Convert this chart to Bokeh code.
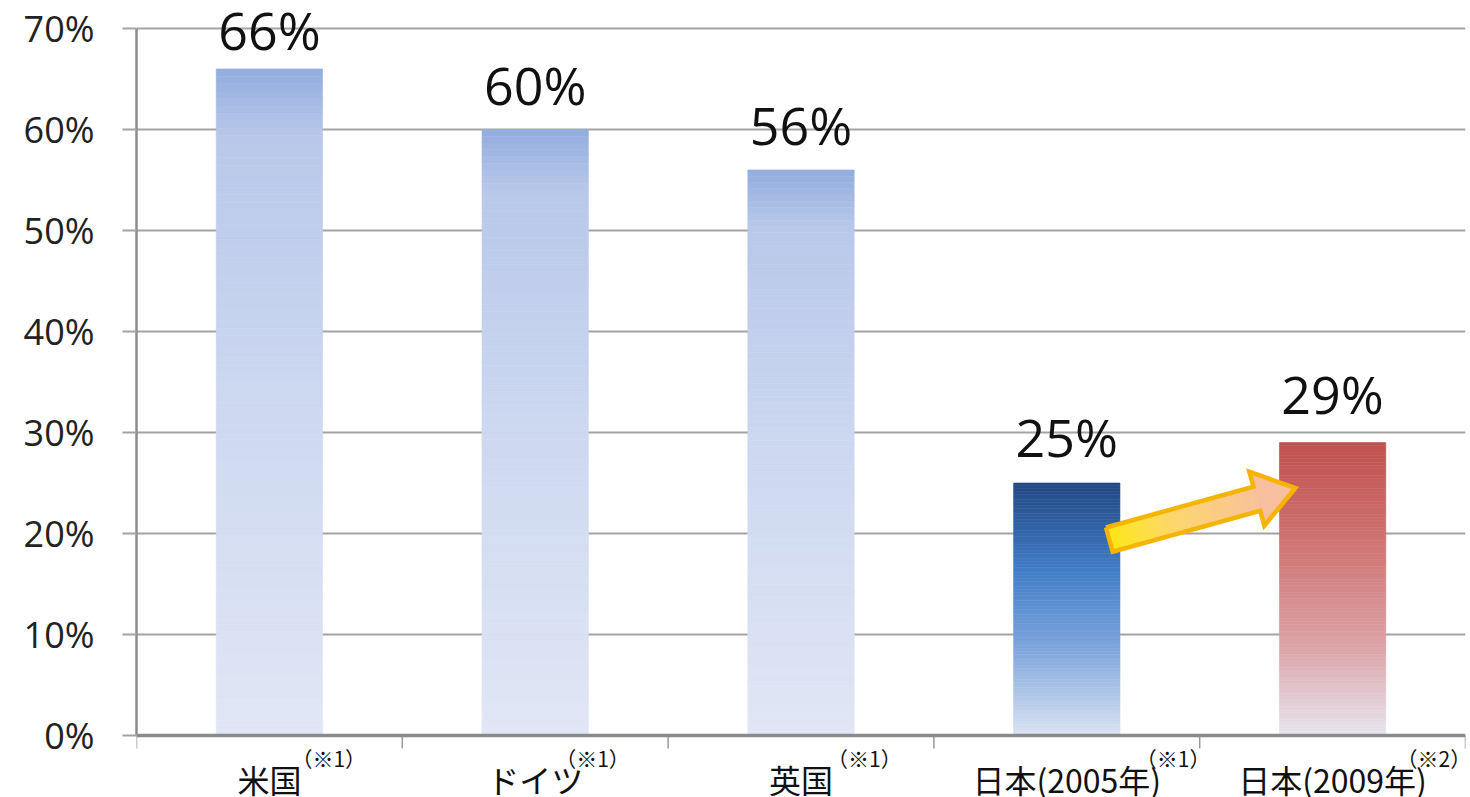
import numpy as np
from bokeh.plotting import figure
from bokeh.models import Label, Range1d, FixedTicker, CustomJSTickFormatter
from bokeh.embed import file_html
from bokeh.resources import INLINE

# ---- data -------------------------------------------------------------
categories = ["米国", "ドイツ", "英国", "日本(2005年)", "日本(2009年)"]
notes = ["（※1）", "（※1）", "（※1）", "（※1）", "（※2）"]
values = [66, 60, 56, 25, 29]
value_labels = ["66%", "60%", "56%", "25%", "29%"]
y_ticks = [0, 10, 20, 30, 40, 50, 60, 70]

# ---- layout / style -----------------------------------------------------
W, H = 1470, 797
BORDER_L, BORDER_R = 136, 5
AXIS_TOP_PX, AXIS_ZERO_PX = 28, 735      # screen rows of 70% and 0%
N_CAT = len(categories)
Y_MAX = 70
FRAME_W = W - BORDER_L - BORDER_R
PX_X = FRAME_W / N_CAT                    # pixels per category unit
PX_Y = (AXIS_ZERO_PX - AXIS_TOP_PX) / Y_MAX   # pixels per percent
Y_START = -(H - AXIS_ZERO_PX) / PX_Y
Y_END = Y_MAX + AXIS_TOP_PX / PX_Y
BAR_W = 0.40

# vertical gradient stops (position from top, rgb)
light_blue = [(0.0, (146, 172, 222)), (0.10, (184, 200, 234)),
              (0.5, (205, 216, 240)), (1.0, (224, 230, 245))]
navy_blue = [(0.0, (34, 72, 132)), (0.35, (66, 126, 200)),
             (0.65, (125, 165, 220)), (1.0, (218, 227, 243))]
brick_red = [(0.0, (192, 80, 77)), (0.40, (210, 122, 122)),
             (0.72, (220, 168, 172)), (1.0, (232, 230, 240))]
bar_gradients = [light_blue, light_blue, light_blue, navy_blue, brick_red]
note_offsets = [22, 20, 26, 69, 64]
label_lift = [39, 45, 45, 47, 49]

FONT_NUM = "Open Sans"
FONT_JP = "Noto Sans CJK JP"


def interp_color(stops, t):
    for (t0, c0), (t1, c1) in zip(stops[:-1], stops[1:]):
        if t0 <= t <= t1:
            f = (t - t0) / (t1 - t0) if t1 > t0 else 0
            r, g, b = (int(round(a + (bb - a) * f)) for a, bb in zip(c0, c1))
            return "#%02x%02x%02x" % (r, g, b)
    r, g, b = stops[-1][1]
    return "#%02x%02x%02x" % (r, g, b)


p = figure(width=W, height=H, output_backend="svg", toolbar_location=None,
           x_range=Range1d(0, N_CAT), y_range=Range1d(Y_START, Y_END),
           min_border_left=BORDER_L, min_border_right=BORDER_R,
           min_border_top=0, min_border_bottom=0)
p.outline_line_color = None
p.background_fill_color = "white"
p.border_fill_color = "white"

# ---- y axis & grid ------------------------------------------------------
p.xgrid.visible = False
p.xaxis.visible = False
p.ygrid.ticker = FixedTicker(ticks=y_ticks)
p.ygrid.grid_line_color = "#a3a3a3"
p.ygrid.grid_line_width = 2

p.yaxis.ticker = FixedTicker(ticks=y_ticks)
p.yaxis.bounds = (0, Y_MAX)
p.yaxis.formatter = CustomJSTickFormatter(code="return tick + '%';")
p.yaxis.major_label_text_font = FONT_NUM
p.yaxis.major_label_text_font_size = "36px"
p.yaxis.major_label_text_color = "#222222"
p.yaxis.major_label_standoff = 28
p.yaxis.major_tick_out = 14
p.yaxis.major_tick_in = 0
p.yaxis.major_tick_line_color = "#a3a3a3"
p.yaxis.major_tick_line_width = 2
p.yaxis.minor_tick_line_color = None
p.yaxis.axis_line_color = "#8c8c8c"
p.yaxis.axis_line_width = 2.5

# ---- gradient bars (stacked thin slices) --------------------------------
centers = np.arange(N_CAT) + 0.5
N_SLICES = 90
left, right, bottom, top, colors = [], [], [], [], []
for cx, v, grad in zip(centers, values, bar_gradients):
    edges = np.linspace(v, 0, N_SLICES + 1)
    for i in range(N_SLICES):
        t = (i + 0.5) / N_SLICES
        left.append(cx - BAR_W / 2)
        right.append(cx + BAR_W / 2)
        top.append(edges[i])
        bottom.append(edges[i + 1])
        colors.append(interp_color(grad, t))
p.quad(left=left, right=right, bottom=bottom, top=top,
       fill_color=colors, line_color=colors, line_width=0.6)

# ---- category axis along 0% with boundary ticks -------------------------
x_ticks = np.arange(N_CAT + 1)
p.segment(x0=x_ticks, y0=0, x1=x_ticks, y1=-13 / PX_Y,
          line_color="#9a9a9a", line_width=1.5)
p.segment(x0=[0], y0=[0], x1=[N_CAT], y1=[0],
          line_color="#8a8a8a", line_width=3.5)

# ---- arrow from the 2005 bar to the 2009 bar ----------------------------
tail = np.array([(centers[3] + 0.16) * PX_X, values[3] * 0.776 * PX_Y])
tip = np.array([(centers[4] - 0.14) * PX_X, (values[4] - 4.5) * PX_Y])
axis_v = tip - tail
length = np.hypot(*axis_v)
u = axis_v / length
n = np.array([-u[1], u[0]])
shaft_half, head_half, head_len = 12.5, 28.0, 40.0
shaft_len = length - head_len


def to_data(pts):
    pts = np.asarray(pts)
    return list(pts[:, 0] / PX_X), list(pts[:, 1] / PX_Y)


arrow_stops = [(0.0, (255, 232, 20)), (0.35, (252, 214, 110)),
               (0.75, (249, 196, 150)), (1.0, (248, 190, 160))]
xs, ys, acol = [], [], []
N_SEG = 40
for i in range(N_SEG):
    a = tail + u * shaft_len * i / N_SEG
    b = tail + u * shaft_len * (i + 1.05) / N_SEG
    poly = [a + n * shaft_half, b + n * shaft_half,
            b - n * shaft_half, a - n * shaft_half]
    x_, y_ = to_data(poly)
    xs.append(x_)
    ys.append(y_)
    acol.append(interp_color(arrow_stops, (i + 0.5) / N_SEG * shaft_len / length))
base = tail + u * shaft_len
head = [base + n * head_half, tip, base - n * head_half]
x_, y_ = to_data(head)
xs.append(x_)
ys.append(y_)
acol.append(interp_color(arrow_stops, 0.95))
p.patches(xs=xs, ys=ys, fill_color=acol, line_color=acol, line_width=0.6)

outline = [tail + n * shaft_half, base + n * shaft_half, base + n * head_half,
           tip, base - n * head_half, base - n * shaft_half,
           tail - n * shaft_half, tail + n * shaft_half]
ox, oy = to_data(outline)
p.line(ox, oy, line_color="#f5b400", line_width=4.5, line_join="miter")

# ---- value labels and category labels -----------------------------------
for cx, v, lab, lift, cat, note, dx in zip(centers, values, value_labels,
                                           label_lift, categories, notes,
                                           note_offsets):
    p.add_layout(Label(x=cx, y=v, text=lab, text_align="center",
                       text_baseline="middle", y_offset=lift,
                       text_font=FONT_NUM, text_font_size="52px",
                       text_color="#111111"))
    p.add_layout(Label(x=cx, y=0, text=cat, text_align="center",
                       text_baseline="middle", y_offset=-43,
                       text_font=FONT_JP, text_font_size="32px",
                       text_color="#111111"))
    p.add_layout(Label(x=cx, y=0, text=note, x_offset=dx, text_align="left",
                       text_baseline="middle", y_offset=-22,
                       text_font=FONT_JP, text_font_size="21px",
                       text_color="#111111"))

open("out.html", "w").write(file_html(p, INLINE))
